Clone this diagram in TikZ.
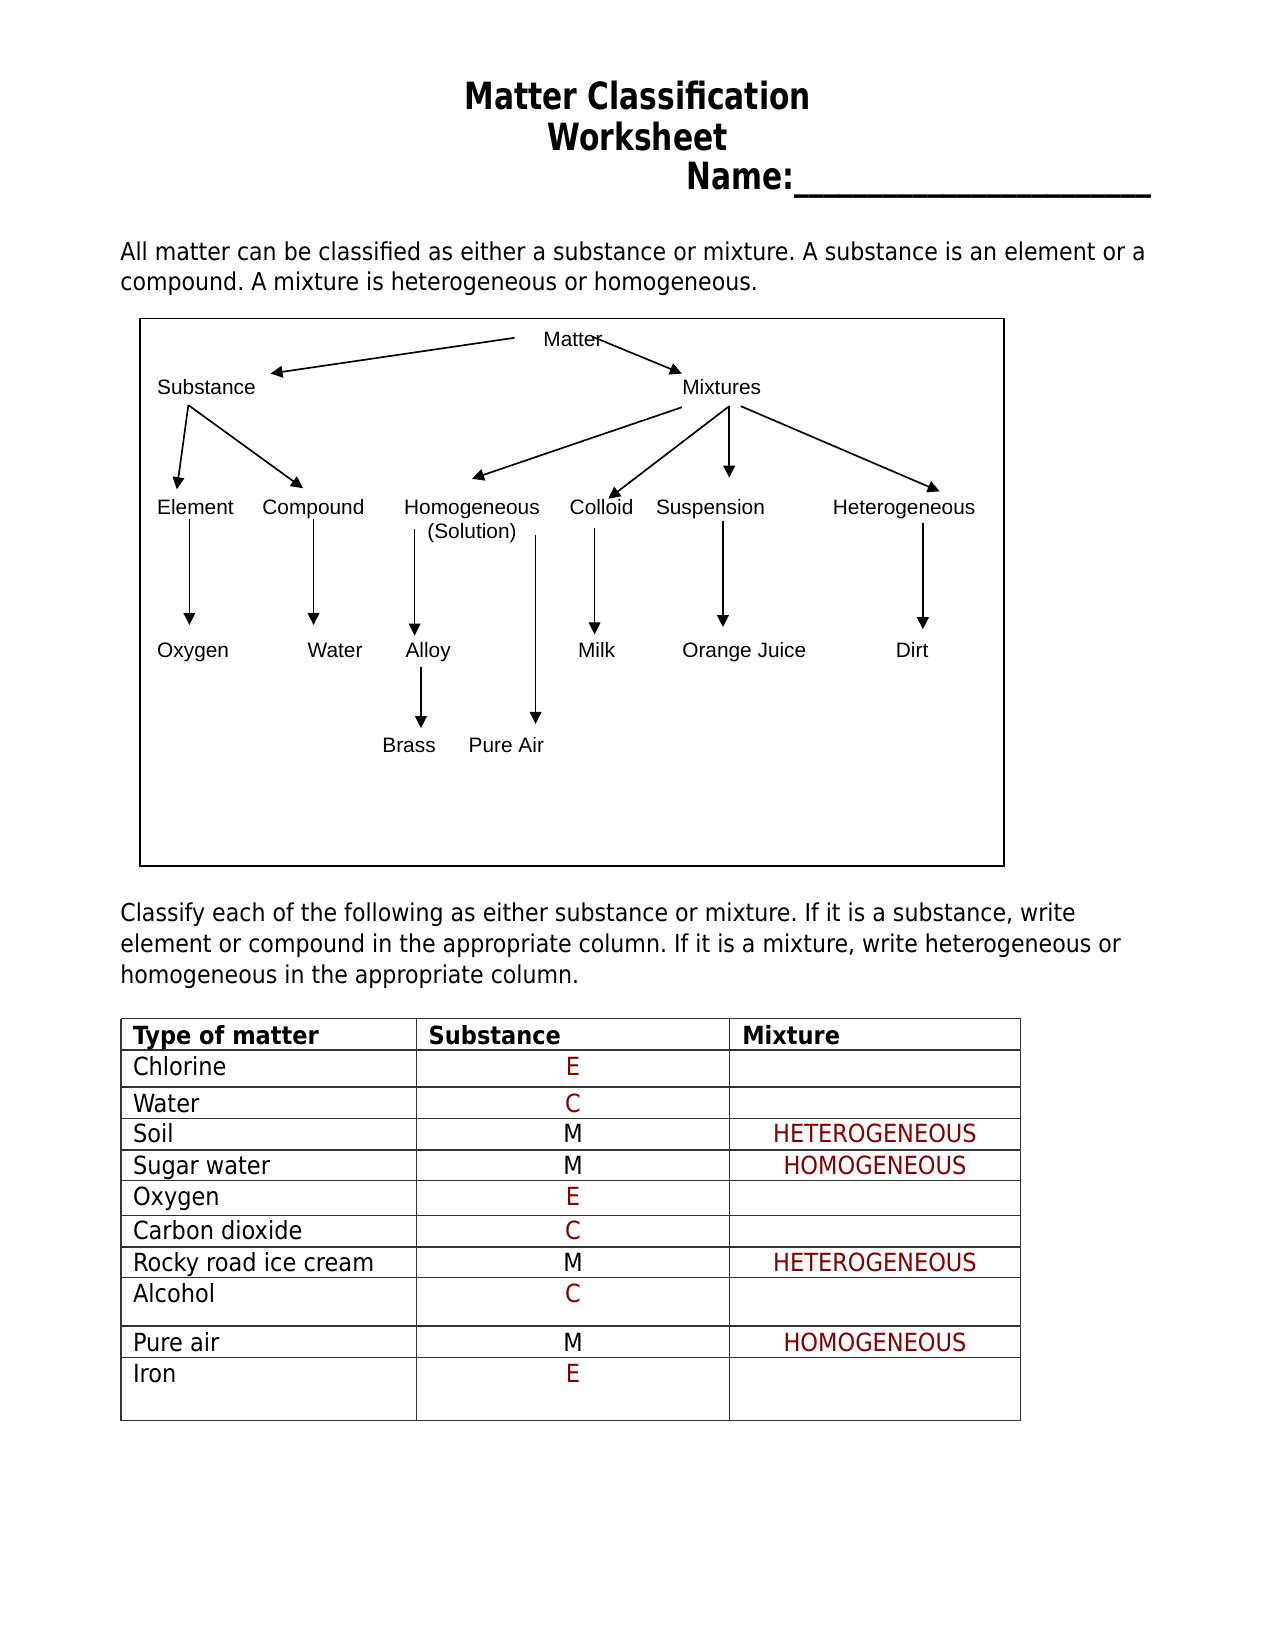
\documentclass[tikz,border=0pt]{standalone}
\usepackage{fontspec}
\usetikzlibrary{arrows.meta,calc}
\newfontfamily\tah{DejaVu Sans Condensed}
\newfontfamily\tahT[FakeStretch=0.88]{DejaVu Sans Condensed}
\newfontfamily\ari{Liberation Sans}
\definecolor{ansred}{RGB}{128,0,0}
\frenchspacing
\begin{document}
\begin{tikzpicture}[x=0.50495pt,y=-0.50495pt,
  ttl/.style={font=\tahT\bfseries\fontsize{18}{22}\selectfont, inner sep=0},
  body/.style={font=\tah\fontsize{11.8}{14}\selectfont, inner sep=0, anchor=base west},
  cell/.style={font=\tah\fontsize{12}{14}\selectfont, inner sep=0, anchor=base west},
  cellb/.style={font=\tah\bfseries\fontsize{12}{14}\selectfont, inner sep=0, anchor=base west},
  dg/.style={font=\ari\fontsize{10}{11.6}\selectfont, inner sep=0, anchor=base west},
  arr/.style={-{Triangle[length=5.8pt,width=5.6pt]}, line width=0.8pt},
  ans/.style={font=\tah\fontsize{12}{14}\selectfont, inner sep=0, anchor=base, text=ansred},
  ansk/.style={font=\tah\fontsize{12}{14}\selectfont, inner sep=0, anchor=base},
  grid/.style={line width=0.7pt, draw=black!80}
]
\useasboundingbox (0,0) rectangle (1212,1568);
% title
\node[ttl] (t1) at (606,91) {Matter Classification};
\node[ttl] (t2) at (606,130) {Worksheet};
\node[ttl, anchor=base west] (t3) at (652,180) {Name:\_\_\_\_\_\_\_\_\_\_\_\_\_\_\_\_\_\_\_\_\_\_\_\_};
% paragraph 1
\node[body] (p1) at (114,248) {All matter can be classified as either a substance or mixture. A substance is an element or a};
\node[body] (p2) at (114,276) {compound. A mixture is heterogeneous or homogeneous.};
% diagram box
\draw[line width=0.6pt] (133,303) rectangle (954,823);
% diagram nodes
\node[dg] (matter) at (516,329) {Matter};
\node[dg] (subst) at (149,375) {Substance};
\node[dg] (mixt) at (648,375) {Mixtures};
\node[dg] (elem) at (149,489) {Element};
\node[dg] (comp) at (249,489) {Compound};
\node[dg, anchor=north, align=center] (homog) at (448.5,475) {Homogeneous\\(Solution)};
\node[dg] (colloid) at (541,489) {Colloid};
\node[dg] (susp) at (623,489) {Suspension};
\node[dg] (hetero) at (791,489) {Heterogeneous};
\node[dg] (oxy) at (149,625) {Oxygen};
\node[dg] (water) at (292,625) {Water};
\node[dg] (alloy) at (385,625) {Alloy};
\node[dg] (milk) at (549,625) {Milk};
\node[dg] (oj) at (648,625) {Orange Juice};
\node[dg] (dirt) at (851,625) {Dirt};
\node[dg] (brass) at (363,715) {Brass};
\node[dg] (pureair) at (445,715) {Pure Air};
% arrows
\draw[arr] ($(matter.base west)+(-27,-8)$) -- ($(subst.base west)+(108,-20)$);
\draw[arr] ($(matter.base west)+(47,-9)$) -- ($(mixt.base west)+(0,-20)$);
\draw[arr] ($(subst.base west)+(30,10)$) -- ($(elem.base west)+(19,-24)$);
\draw[arr] ($(subst.base west)+(30,10)$) -- ($(comp.base west)+(39,-25)$);
\draw[arr] ($(mixt.base west)+(0,12)$) -- ($(homog.north)+(0,-20)$);
\draw[arr] ($(mixt.base west)+(45,11)$) -- ($(colloid.base west)+(37,-15)$);
\draw[arr] ($(mixt.base west)+(45,11)$) -- ($(susp.base west)+(70,-35)$);
\draw[arr] ($(mixt.base west)+(56,11)$) -- ($(hetero.base west)+(102,-22)$);
\draw[arr] ($(elem.base west)+(31,4)$) -- ($(oxy.base west)+(31,-31)$);
\draw[arr] ($(comp.base west)+(49,4)$) -- ($(water.base west)+(6,-31)$);
\draw[arr] ($(homog.north)+(-54.5,28)$) -- ($(alloy.base west)+(9,-21)$);
\draw[arr] ($(homog.north)+(60.5,33)$) -- ($(pureair.base west)+(64,-27)$);
\draw[arr] ($(colloid.base west)+(24,13)$) -- ($(milk.base west)+(16,-22)$);
\draw[arr] ($(susp.base west)+(64,6)$) -- ($(oj.base west)+(39,-29)$);
\draw[arr] ($(hetero.base west)+(86,8)$) -- ($(dirt.base west)+(26,-27)$);
\draw[arr] ($(alloy.base west)+(15,9)$) -- ($(brass.base west)+(37,-23)$);
% paragraph 2
\node[body] (q1) at (114,876) {Classify each of the following as either substance or mixture. If it is a substance, write};
\node[body] (q2) at (114,905) {element or compound in the appropriate column. If it is a mixture, write heterogeneous or};
\node[body] (q3) at (114,935) {homogeneous in the appropriate column.};
% table grid
\foreach \y in {968,998,1033,1063,1093,1122,1155,1185,1214,1260,1290,1350}
  \draw[grid] (115,\y) -- (970,\y);
\foreach \x in {115,396,693,970}
  \draw[grid] (\x,968) -- (\x,1350);
% header
\node[cellb] (h1) at (126,993) {Type of matter};
\node[cellb] (h2) at (407,993) {Substance};
\node[cellb] (h3) at (705,993) {Mixture};
% rows
\node[cell] (r1) at (126,1022) {Chlorine};
\node[cell] (r2) at (126,1057) {Water};
\node[cell] (r3) at (126,1086) {Soil};
\node[cell] (r4) at (126,1116) {Sugar water};
\node[cell] (r5) at (126,1146) {Oxygen};
\node[cell] (r6) at (126,1178) {Carbon dioxide};
\node[cell] (r7) at (126,1208) {Rocky road ice cream};
\node[cell] (r8) at (126,1238) {Alcohol};
\node[cell] (r9) at (126,1284) {Pure air};
\node[cell] (r10) at (126,1314) {Iron};
% substance column
\node[ans] (s1) at (544.5,1022) {E};
\node[ans] (s2) at (544.5,1057) {C};
\node[ansk] (s3) at (544.5,1086) {M};
\node[ansk] (s4) at (544.5,1116) {M};
\node[ans] (s5) at (544.5,1146) {E};
\node[ans] (s6) at (544.5,1178) {C};
\node[ansk] (s7) at (544.5,1208) {M};
\node[ans] (s8) at (544.5,1238) {C};
\node[ansk] (s9) at (544.5,1284) {M};
\node[ans] (s10) at (544.5,1314) {E};
% mixture column
\node[ans] (m3) at (831.5,1086) {HETEROGENEOUS};
\node[ans] (m4) at (831.5,1116) {HOMOGENEOUS};
\node[ans] (m7) at (831.5,1208) {HETEROGENEOUS};
\node[ans] (m9) at (831.5,1284) {HOMOGENEOUS};
\end{tikzpicture}
\end{document}
